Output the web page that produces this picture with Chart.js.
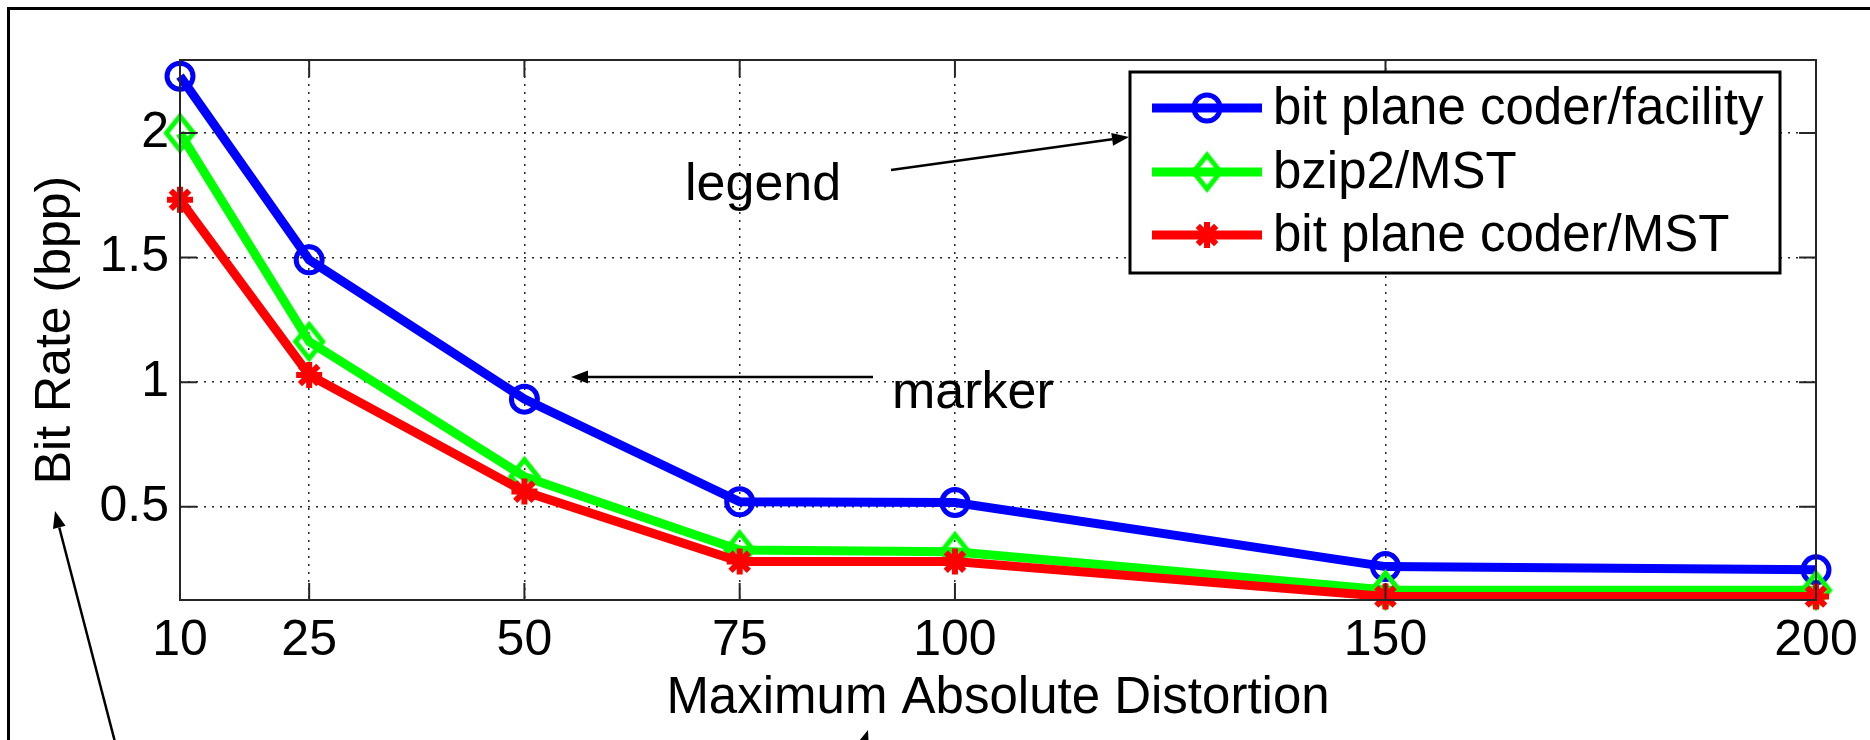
<!DOCTYPE html>
<html>
<head>
<meta charset="utf-8">
<script src="https://cdn.jsdelivr.net/npm/chart.js@4/dist/chart.umd.min.js"></script>
<style>
  html, body { margin: 0; padding: 0; background: #fff; }
  #wrap { width: 1870px; height: 740px; position: relative; }
  canvas { display: block; }
</style>
</head>
<body>
<div id="wrap"><canvas id="c" width="1870" height="740"></canvas></div>
<script>
// Maximum absolute distortion values (x axis)
const distortion = [10, 25, 50, 75, 100, 150, 200];

// Bit rate (bpp) for each coder
const facilityBitPlane = [2.228, 1.491, 0.932, 0.520, 0.517, 0.260, 0.247];
const mstBzip2         = [2.000, 1.163, 0.621, 0.327, 0.320, 0.166, 0.165];
const mstBitPlane      = [1.732, 1.029, 0.561, 0.280, 0.280, 0.140, 0.140];

const seriesNames = ['bit plane coder/facility', 'bzip2/MST', 'bit plane coder/MST'];

// Tick positions
const xTickValues = [10, 25, 50, 75, 100, 150, 200];
const yTickValues = [0.5, 1, 1.5, 2];

const FONT = "'Liberation Sans', Arial, Helvetica, sans-serif";
const AXIS_COLOR = '#262626';

// Tall open diamond marker
function makeDiamond(color, w, h, lw) {
  const c = document.createElement('canvas');
  c.width = Math.ceil(w + lw * 2);
  c.height = Math.ceil(h + lw * 2);
  const g = c.getContext('2d');
  const cx = c.width / 2, cy = c.height / 2;
  g.strokeStyle = color;
  g.lineWidth = lw;
  g.lineJoin = 'miter';
  g.beginPath();
  g.moveTo(cx, cy - h / 2);
  g.lineTo(cx + w / 2, cy);
  g.lineTo(cx, cy + h / 2);
  g.lineTo(cx - w / 2, cy);
  g.closePath();
  g.stroke();
  return c;
}
const diamondGreen = makeDiamond('#00ff00', 27, 34, 5);

const toPoints = ys => distortion.map((x, i) => ({ x: x, y: ys[i] }));

const datasets = [
  { label: seriesNames[0], data: toPoints(facilityBitPlane), borderColor: '#0000ff',
    pointStyle: 'circle', pointRadius: 13, pointBorderWidth: 5, order: 3 },
  { label: seriesNames[1], data: toPoints(mstBzip2), borderColor: '#00ff00',
    pointStyle: diamondGreen, pointRadius: 15, pointBorderWidth: 5, order: 2 },
  { label: seriesNames[2], data: toPoints(mstBitPlane), borderColor: '#ff0000',
    pointStyle: 'star', pointRadius: 13, pointBorderWidth: 6, order: 1 }
].map(d => Object.assign(d, {
  borderWidth: 9,
  pointBorderColor: d.borderColor,
  pointBackgroundColor: 'rgba(0,0,0,0)',
  pointHoverRadius: d.pointRadius,
  tension: 0,
  fill: false,
  clip: false
}));

// Axes box with inward tick marks on all four sides
const axesBox = {
  id: 'axesBox',
  afterDatasetsDraw(chart) {
    const { ctx, chartArea: a, scales } = chart;
    const len = 17;
    ctx.save();
    ctx.strokeStyle = AXIS_COLOR;
    ctx.lineWidth = 2;
    ctx.beginPath();
    scales.x.ticks.forEach(t => {
      const px = scales.x.getPixelForValue(t.value);
      ctx.moveTo(px, a.bottom); ctx.lineTo(px, a.bottom - len);
      ctx.moveTo(px, a.top); ctx.lineTo(px, a.top + len);
    });
    scales.y.ticks.forEach(t => {
      const py = scales.y.getPixelForValue(t.value);
      ctx.moveTo(a.left, py); ctx.lineTo(a.left + len, py);
      ctx.moveTo(a.right, py); ctx.lineTo(a.right - len, py);
    });
    ctx.stroke();
    ctx.strokeRect(a.left, a.top, a.right - a.left, a.bottom - a.top);
    ctx.restore();
  }
};

// Boxed legend in the upper right of the plot
const boxedLegend = {
  id: 'boxedLegend',
  afterDraw(chart) {
    const { ctx } = chart;
    const box = { x: 1130, y: 72, w: 650, h: 201 };
    ctx.save();
    ctx.fillStyle = '#fff';
    ctx.fillRect(box.x, box.y, box.w, box.h);
    ctx.strokeStyle = '#000';
    ctx.lineWidth = 3;
    ctx.strokeRect(box.x, box.y, box.w, box.h);
    const rowY = [108, 172, 235];
    chart.data.datasets.forEach((ds, i) => {
      const y = rowY[i];
      ctx.strokeStyle = ds.borderColor;
      ctx.lineWidth = ds.borderWidth;
      ctx.lineCap = 'butt';
      ctx.beginPath();
      ctx.moveTo(1152, y); ctx.lineTo(1262, y);
      ctx.stroke();
      ctx.fillStyle = 'rgba(0,0,0,0)';
      ctx.strokeStyle = ds.pointBorderColor;
      ctx.lineWidth = ds.pointBorderWidth;
      Chart.helpers.drawPoint(ctx, {
        pointStyle: ds.pointStyle, radius: ds.pointRadius,
        borderWidth: ds.pointBorderWidth, rotation: 0
      }, 1207, y);
      ctx.fillStyle = '#000';
      ctx.font = '51px ' + FONT;
      ctx.textBaseline = 'middle';
      ctx.textAlign = 'left';
      ctx.fillText(ds.label, 1273, y + 2);
    });
    ctx.restore();
  }
};

// Call-out notes with arrows and the outer frame
function arrow(ctx, x1, y1, x2, y2) {
  const ang = Math.atan2(y2 - y1, x2 - x1);
  const hl = 17, hw = 6.5;
  const bx = x2 - hl * Math.cos(ang), by = y2 - hl * Math.sin(ang);
  ctx.beginPath();
  ctx.moveTo(x1, y1); ctx.lineTo(bx, by);
  ctx.stroke();
  ctx.beginPath();
  ctx.moveTo(x2, y2);
  ctx.lineTo(bx + hw * Math.sin(ang), by - hw * Math.cos(ang));
  ctx.lineTo(bx - hw * Math.sin(ang), by + hw * Math.cos(ang));
  ctx.closePath();
  ctx.fill();
}
const callouts = {
  id: 'callouts',
  afterDraw(chart) {
    const { ctx } = chart;
    ctx.save();
    ctx.strokeStyle = '#000';
    ctx.fillStyle = '#000';
    ctx.lineWidth = 3;
    ctx.beginPath();
    ctx.moveTo(8.5, 740); ctx.lineTo(8.5, 8.5); ctx.lineTo(1870, 8.5);
    ctx.stroke();
    ctx.lineWidth = 2.5;
    arrow(ctx, 891, 170, 1129, 137);
    arrow(ctx, 873, 377, 571, 377);
    arrow(ctx, 115, 742, 55, 511);
    arrow(ctx, 845, 800, 868, 730);
    ctx.font = '52px ' + FONT;
    ctx.textBaseline = 'alphabetic';
    ctx.textAlign = 'left';
    ctx.fillText('legend', 685, 200);
    ctx.fillText('marker', 892, 408);
    ctx.restore();
  }
};

Chart.defaults.font.family = FONT;
Chart.defaults.color = '#000';

new Chart(document.getElementById('c'), {
  type: 'line',
  data: { datasets },
  options: {
    responsive: false,
    devicePixelRatio: 1,
    animation: false,
    events: [],
    layout: { padding: { left: 0, top: 60, right: 54, bottom: 0 } },
    plugins: { legend: { display: false }, tooltip: { enabled: false } },
    scales: {
      x: {
        type: 'linear',
        min: 10, max: 200,
        afterBuildTicks: s => { s.ticks = xTickValues.map(v => ({ value: v })); },
        afterFit: s => { s.height = 140; },
        ticks: { autoSkip: false, maxRotation: 0, padding: 11,
                 font: { size: 50 }, color: '#000', callback: v => String(v) },
        grid: { color: AXIS_COLOR, lineWidth: 1.5, drawTicks: false },
        border: { display: false, dash: [2, 6] },
        title: { display: true, text: 'Maximum Absolute Distortion',
                 font: { size: 51 }, color: '#000', padding: { top: 0, bottom: 10 } }
      },
      y: {
        type: 'linear',
        min: 0.126, max: 2.293,
        afterBuildTicks: s => { s.ticks = yTickValues.map(v => ({ value: v })); },
        afterFit: s => { s.width = 180; },
        ticks: { padding: 11, font: { size: 50 }, color: '#000', callback: v => String(v) },
        grid: { color: AXIS_COLOR, lineWidth: 1.5, drawTicks: false },
        border: { display: false, dash: [2, 6] },
        title: { display: true, text: 'Bit Rate (bpp)',
                 font: { size: 50 }, color: '#000', padding: { top: 26, bottom: 0 } }
      }
    }
  },
  plugins: [axesBox, boxedLegend, callouts]
});
</script>
</body>
</html>
